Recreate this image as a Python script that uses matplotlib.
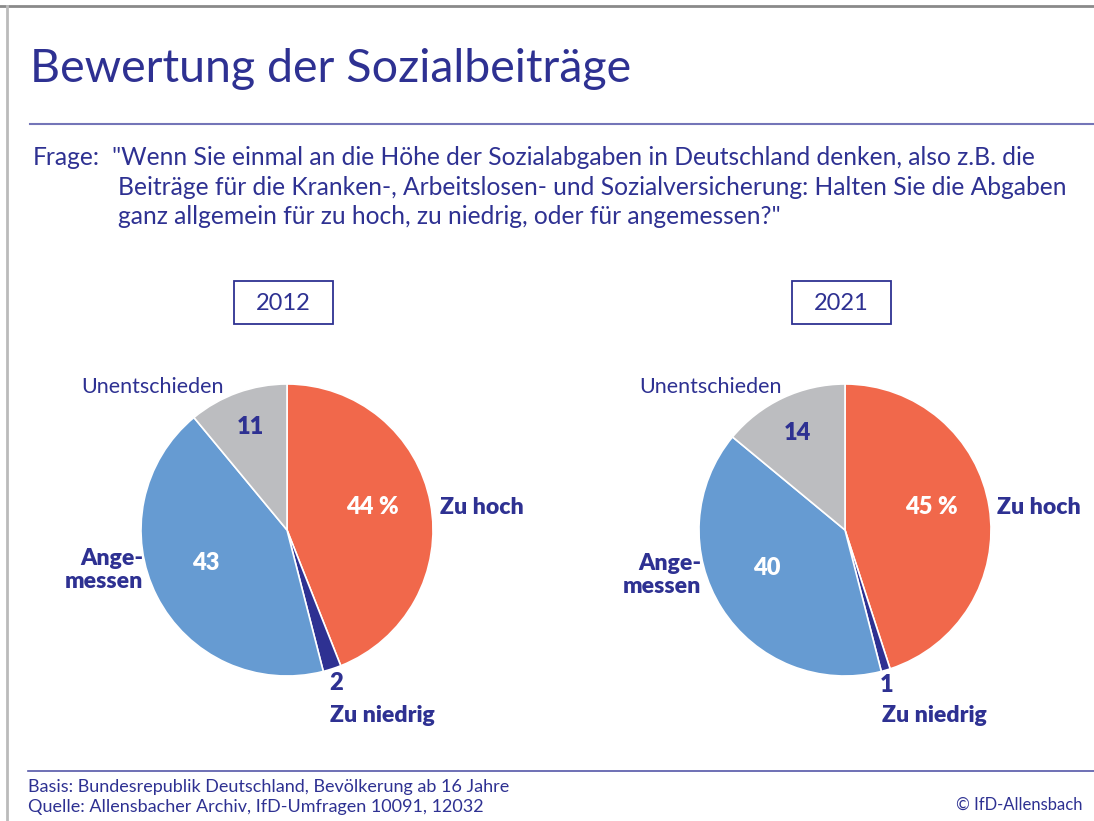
import matplotlib
matplotlib.use('Agg')
import matplotlib.pyplot as plt
from matplotlib.patches import Rectangle

# ---------------- data ----------------
categories = ['Zu hoch', 'Zu niedrig', 'Angemessen', 'Unentschieden']
years = ['2012', '2021']
values_2012 = [44, 2, 43, 11]
values_2021 = [45, 1, 40, 14]
colors = ['#F1684B', '#2E3192', '#669BD2', '#BCBDC0']

title = 'Bewertung der Sozialbeiträge'
question_lines = ['"Wenn Sie einmal an die Höhe der Sozialabgaben in Deutschland denken, also z.B. die',
                  'Beiträge für die Kranken-, Arbeitslosen- und Sozialversicherung: Halten Sie die Abgaben',
                  'ganz allgemein für zu hoch, zu niedrig, oder für angemessen?"']
footer_lines = ['Basis: Bundesrepublik Deutschland, Bevölkerung ab 16 Jahre',
                'Quelle: Allensbacher Archiv, IfD-Umfragen 10091, 12032']
copyright_txt = '© IfD-Allensbach'

NAVY = '#2E3192'
FONT = ['Lato', 'DejaVu Sans']
plt.rcParams['font.family'] = FONT

W, H = 1094, 821
fig = plt.figure(figsize=(W / 100, H / 100), dpi=100)
fig.patch.set_facecolor('white')

ov = fig.add_axes([0, 0, 1, 1])
ov.set_xlim(0, W)
ov.set_ylim(H, 0)
ov.axis('off')
ov.set_zorder(10)
renderer = fig.canvas.get_renderer()


def fit_size(s, width, weight='normal', start=20):
    t = ov.text(0, 0, s, fontsize=start, fontweight=weight)
    w = t.get_window_extent(renderer).width
    t.remove()
    return start * width / w


# frame lines
ov.plot([0, W], [6, 6], color='#8A8A8A', lw=2)
ov.plot([7, 7], [6, H], color='#BBBBBB', lw=2)
ov.plot([30, W], [124, 124], color='#7475B8', lw=1.5)
ov.plot([28, W], [771, 771], color='#5557A8', lw=1.2)

# title
ts = fit_size(title, 604, 'normal')
ov.text(30, 82, title, fontsize=ts, color=NAVY, fontweight='normal', va='baseline', ha='left')

# question
qs = fit_size(question_lines[1], 955)
ov.text(33, 165, 'Frage:', fontsize=qs, color=NAVY, va='baseline', ha='left')
ov.text(112, 165, question_lines[0], fontsize=qs, color=NAVY, va='baseline', ha='left')
ov.text(118, 195, question_lines[1], fontsize=qs, color=NAVY, va='baseline', ha='left')
ov.text(118, 224, question_lines[2], fontsize=qs, color=NAVY, va='baseline', ha='left')

# footer
fs = fit_size(footer_lines[0], 485)
ov.text(28, 792, footer_lines[0], fontsize=fs, color=NAVY, va='baseline', ha='left')
ov.text(28, 812, footer_lines[1], fontsize=fs, color=NAVY, va='baseline', ha='left')
ov.text(1082, 810, copyright_txt, fontsize=fs * 0.92, color=NAVY, va='baseline', ha='right')

# pies
R = 146
layouts = [
    dict(values=values_2012, year=years[0], cx=287, cy=530,
         pct=(372, 507), big=(206, 563), und=(250, 427), small=(336, 683),
         zuhoch=(440, 507), niedrig=(330, 716), ange=(143, 565), unent=(224, 387)),
    dict(values=values_2021, year=years[1], cx=845, cy=530,
         pct=(931, 507), big=(767, 568), und=(797, 433), small=(887, 685),
         zuhoch=(997, 507), niedrig=(882, 716), ange=(701, 570), unent=(782, 387)),
]

us = fit_size(categories[3], 143)
ls = fit_size(categories[1], 105, 'heavy')

for L in layouts:
    cx, cy = L['cx'], L['cy']
    pax = fig.add_axes([(cx - R) / W, (H - cy - R) / H, 2 * R / W, 2 * R / H])
    pax.pie(L['values'], colors=colors, startangle=90, counterclock=False, radius=1,
            wedgeprops=dict(edgecolor='white', linewidth=1.2))
    pax.set_xlim(-1, 1)
    pax.set_ylim(-1, 1)
    pax.axis('off')

    v = L['values']
    # year box
    bx = cx - 53
    ov.add_patch(Rectangle((bx, 281), 99, 43, fill=False, edgecolor=NAVY, lw=1.3))
    ov.text(bx + 49.5, 303, L['year'], fontsize=17, color=NAVY, ha='center', va='center')

    ov.text(*L['pct'], f'{v[0]} %', fontsize=17, fontweight='heavy', color='white', ha='center', va='center')
    ov.text(*L['big'], f'{v[2]}', fontsize=17, fontweight='heavy', color='white', ha='center', va='center')
    ov.text(*L['und'], f'{v[3]}', fontsize=17, fontweight='heavy', color=NAVY, ha='center', va='center')
    ov.text(*L['small'], f'{v[1]}', fontsize=17, fontweight='heavy', color=NAVY, ha='center', va='center')

    ov.text(*L['zuhoch'], categories[0], fontsize=ls, fontweight='heavy', color=NAVY, ha='left', va='center')
    ov.text(*L['niedrig'], categories[1], fontsize=ls, fontweight='heavy', color=NAVY, ha='left', va='center')
    ax_, ay_ = L['ange']
    ov.text(ax_, ay_, 'Ange-', fontsize=ls, fontweight='heavy', color=NAVY, ha='right', va='baseline')
    ov.text(ax_, ay_ + 23, 'messen', fontsize=ls, fontweight='heavy', color=NAVY, ha='right', va='baseline')
    ov.text(*L['unent'], categories[3], fontsize=us, color=NAVY, ha='right', va='center')

fig.savefig('out.png', dpi=100, facecolor='white')
